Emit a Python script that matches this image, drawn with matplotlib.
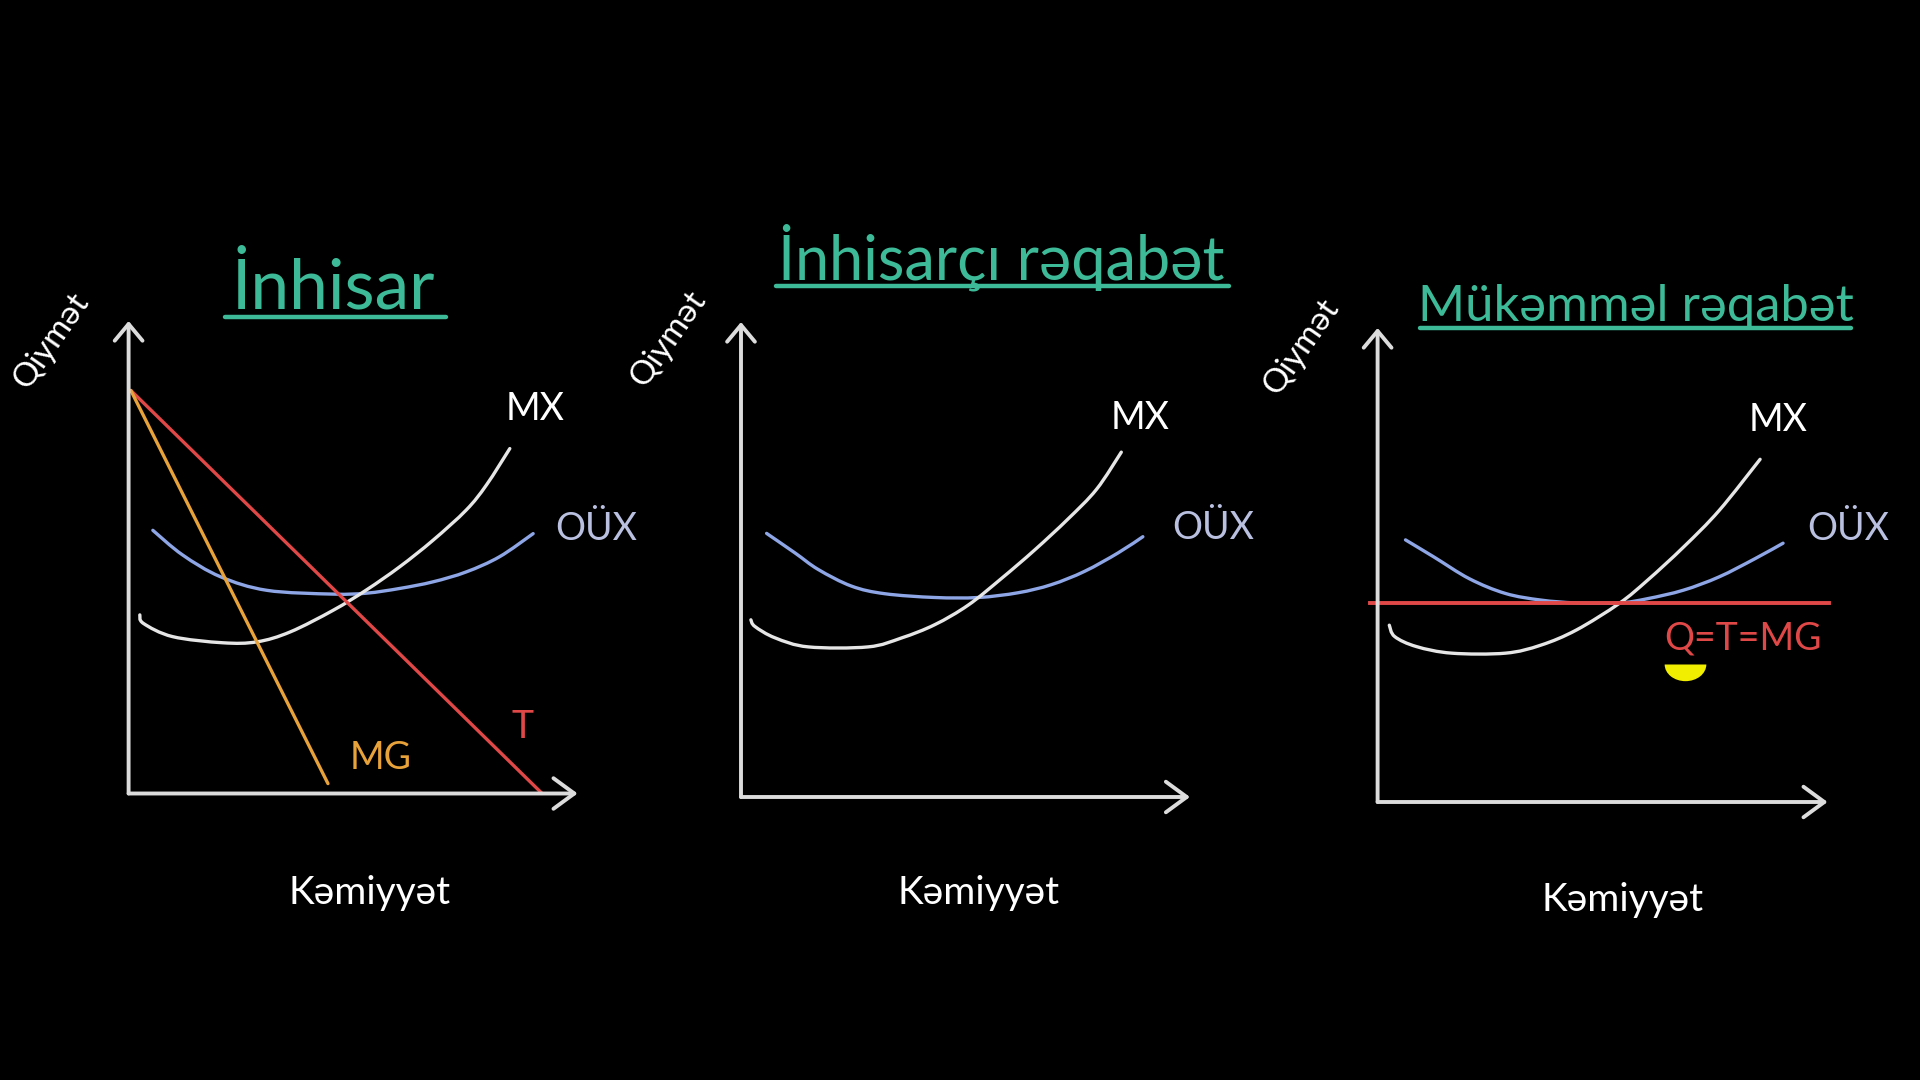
import matplotlib
matplotlib.use("Agg")
import matplotlib.pyplot as plt
from matplotlib.path import Path
from matplotlib.patches import PathPatch
import numpy as np

# ---------------- data ----------------
titles = ["İnhisar", "İnhisarçı rəqabət", "Mükəmməl rəqabət"]
x_label = "Kəmiyyət"
y_label = "Qiymət"

# Panel 1: monopoly
p1_mx_x = [0.25, 0.33, 0.98, 2.10, 2.86, 3.60, 4.56, 5.30, 6.04, 6.78, 7.52, 7.97, 8.49]
p1_mx_y = [3.78, 3.60, 3.32, 3.19, 3.21, 3.42, 3.88, 4.31, 4.80, 5.36, 6.00, 6.53, 7.30]
p1_oux_x = [0.54, 1.20, 2.04, 3.08, 4.55, 5.30, 6.04, 6.78, 7.52, 8.26, 9.01]
p1_oux_y = [5.57, 5.05, 4.59, 4.30, 4.22, 4.24, 4.34, 4.48, 4.69, 5.01, 5.50]
p1_t_x = [0.05, 9.21]
p1_t_y = [8.53, 0.00]
p1_mg_x = [0.05, 4.44]
p1_mg_y = [8.53, 0.21]

# Panel 2: monopolistic competition
p2_mx_x = [0.22, 0.31, 0.76, 1.50, 2.83, 3.58, 4.32, 5.06, 5.80, 6.54, 7.28, 7.92, 8.47]
p2_mx_y = [3.73, 3.59, 3.35, 3.16, 3.16, 3.35, 3.63, 4.04, 4.60, 5.20, 5.85, 6.48, 7.26]
p2_oux_x = [0.57, 1.20, 1.72, 2.46, 3.20, 4.32, 5.28, 6.17, 6.91, 7.65, 8.40, 8.95]
p2_oux_y = [5.55, 5.14, 4.79, 4.44, 4.28, 4.20, 4.20, 4.30, 4.47, 4.75, 5.14, 5.48]

# Panel 3: perfect competition
p3_mx_x = [0.26, 0.38, 0.86, 1.65, 2.84, 3.63, 4.42, 5.37, 6.00, 6.80, 7.59, 8.50]
p3_mx_y = [3.73, 3.49, 3.28, 3.14, 3.14, 3.31, 3.63, 4.19, 4.68, 5.38, 6.15, 7.23]
p3_oux_x = [0.62, 1.25, 2.04, 2.84, 3.63, 4.42, 5.37, 6.00, 6.80, 7.59, 8.38, 9.01]
p3_oux_y = [5.53, 5.17, 4.71, 4.40, 4.26, 4.20, 4.20, 4.29, 4.47, 4.75, 5.13, 5.46]
p3_price_x = [-0.16, 10.03]
p3_price_y = [4.19, 4.19]
p3_point = (6.83, 2.91)

# ---------------- style ----------------
BG = "black"
AX_C = "#dcdcdc"
MX_C = "#e6e6e6"
OUX_C = "#8ea6e6"
OUX_T = "#b9c0e0"
RED = "#e04848"
ORANGE = "#e8a23a"
TEAL = "#3dba98"
YELLOW = "#f2ee00"
FONT = ["Lato", "DejaVu Sans"]

fig = plt.figure(figsize=(19.2, 10.8), dpi=100, facecolor=BG)

positions = [
    [128.6 / 1920, (1080 - 793.5) / 1080, 449 / 1920, 472.5 / 1080],
    [741.0 / 1920, (1080 - 797.0) / 1080, 449 / 1920, 475.0 / 1080],
    [1377.6 / 1920, (1080 - 802.0) / 1080, 450 / 1920, 474.0 / 1080],
]


def smooth_curve(ax, xs, ys, color, lw):
    """Draw a smooth (Catmull-Rom style Bezier) line through the given points."""
    p = np.column_stack([xs, ys]).astype(float)
    n = len(p)
    verts = [p[0]]
    codes = [Path.MOVETO]
    for i in range(n - 1):
        p0 = p[i - 1] if i > 0 else p[i]
        p1 = p[i]
        p2 = p[i + 1]
        p3 = p[i + 2] if i + 2 < n else p[i + 1]
        c1 = p1 + (p2 - p0) / 6.0
        c2 = p2 - (p3 - p1) / 6.0
        verts += [c1, c2, p2]
        codes += [Path.CURVE4] * 3
    patch = PathPatch(Path(verts, codes), facecolor="none", edgecolor=color,
                      lw=lw, capstyle="round", joinstyle="round")
    ax.add_patch(patch)


axes = []
for pos in positions:
    ax = fig.add_axes(pos)
    ax.set_facecolor(BG)
    ax.set_xlim(0, 10)
    ax.set_ylim(0, 10)
    ax.set_axis_off()
    ax.annotate("", xy=(10, 0), xytext=(0, 0),
                arrowprops=dict(arrowstyle="->,head_length=1.5,head_width=1.1",
                                lw=2.8, color=AX_C, shrinkA=0, shrinkB=0,
                                mutation_scale=10), annotation_clip=False)
    ax.annotate("", xy=(0, 10), xytext=(0, 0),
                arrowprops=dict(arrowstyle="->,head_length=1.2,head_width=1.0",
                                lw=2.8, color=AX_C, shrinkA=0, shrinkB=0,
                                mutation_scale=10), annotation_clip=False)
    axes.append(ax)

ax1, ax2, ax3 = axes
LW = 2.4

# Panel 1
ax1.plot(p1_t_x, p1_t_y, color=RED, lw=LW, solid_capstyle="round", clip_on=False)
ax1.plot(p1_mg_x, p1_mg_y, color=ORANGE, lw=LW, solid_capstyle="round", clip_on=False)
smooth_curve(ax1, p1_oux_x, p1_oux_y, OUX_C, LW)
smooth_curve(ax1, p1_mx_x, p1_mx_y, MX_C, LW)

# Panel 2
smooth_curve(ax2, p2_oux_x, p2_oux_y, OUX_C, LW)
smooth_curve(ax2, p2_mx_x, p2_mx_y, MX_C, LW)

# Panel 3
smooth_curve(ax3, p3_oux_x, p3_oux_y, OUX_C, LW)
smooth_curve(ax3, p3_mx_x, p3_mx_y, MX_C, LW)
ax3.plot(p3_price_x, p3_price_y, color=RED, lw=LW + 0.4, clip_on=False)
w = Path.wedge(180, 360)
half_disc = Path(w.vertices * np.array([1.0, 0.8]), w.codes)
ax3.scatter([p3_point[0]], [p3_point[1]], marker=half_disc, s=900,
            color=YELLOW, linewidths=0, clip_on=False, zorder=5)

# ---------------- texts ----------------
lab = dict(family=FONT, fontsize=27, ha="center", va="center")


def t(ax, x, y, s, color, **kw):
    d = dict(lab)
    d.update(kw)
    ax.text(x, y, s, color=color, clip_on=False, **d)


for ax, (qx, qy), (kx, ky) in zip(axes,
                                 [(-1.72, 9.59), (-1.61, 9.64), (-1.69, 9.61)],
                                 [(5.37, -2.10), (5.29, -2.02), (5.44, -2.07)]):
    t(ax, qx, qy, y_label, "white", rotation=55, fontsize=24)
    t(ax, kx, ky, x_label, "white", fontsize=28)

t(ax1, 9.05, 8.13, "MX", "white")
t(ax1, 10.41, 5.60, "OÜX", OUX_T)
t(ax1, 5.61, 0.75, "MG", ORANGE)
t(ax1, 8.77, 1.40, "T", RED)
t(ax2, 8.88, 7.98, "MX", "white")
t(ax2, 10.52, 5.66, "OÜX", OUX_T)
t(ax3, 8.91, 8.06, "MX", "white")
t(ax3, 10.46, 5.76, "OÜX", OUX_T)
t(ax3, 8.13, 3.44, "Q=T=MG", RED)

title_info = [
    (ax1, 4.55, 10.70, 50, (2.15, 7.08), 10.08),
    (ax2, 5.80, 11.37, 44, (0.79, 10.87), 10.75),
    (ax3, 5.73, 10.45, 36.5, (0.95, 10.52), 10.00),
]
for (ax, tx, ty, fs, (u1, u2), uy), title in zip(title_info, titles):
    t(ax, tx, ty, title, TEAL, fontsize=fs)
    ax.plot([u1, u2], [uy, uy], color=TEAL, lw=3.2, clip_on=False,
            solid_capstyle="round")

fig.savefig("out.png", dpi=100, facecolor=BG)
